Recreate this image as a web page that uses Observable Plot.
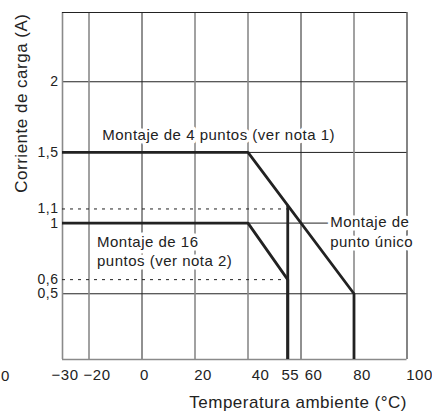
<!DOCTYPE html>
<html><head><meta charset="utf-8">
<script src="https://cdn.jsdelivr.net/npm/d3@7"></script>
<script src="https://cdn.jsdelivr.net/npm/@observablehq/plot@0.6"></script>
<style>
body{margin:0;background:#fff;}
#chart svg{display:block;}
</style></head><body><div id="chart"></div>
<script>
// Tick labels and grid
const tempTicks = [-30, -20, 0, 20, 40, 55, 60, 80, 100];
const currentTicks = [0.5, 0.6, 1, 1.1, 1.5, 2];
const gridTempGray = [-20, 20, 40, 80];
const gridTempBlack = [0, 60];
const gridCurrent = [0.5, 1, 1.5, 2];
// Reference (dotted) levels
const refCurrent = [1.1, 0.6];
const refTempEnd = 55;
// Series: Montaje de 4 puntos
const temp4 = [-30, 40, 80, 80];
const curr4 = [1.5, 1.5, 0.5, 0];
// Series: Montaje de 16 puntos
const temp16 = [-30, 40, 55, 55];
const curr16 = [1, 1, 0.6, 0];
// Series: Montaje de punto único
const tempSingle = [55, 55];
const currSingle = [1.12, 0];

const xDomain = [-30, 100];
const yDomain = [0.035, 2.49];

const toPts = (xs, ys) => xs.map((x, i) => ({x, y: ys[i]}));
const fmt = d => (d < 0 ? "\u2212" + (-d) : String(d)).replace(".", ",");
const ink = "#222";
const gray = "#8a8a8a";

const group = (vals, dx) => Plot.axisX(vals, {
  tickSize: 0, tickPadding: 10, tickFormat: fmt, fontSize: 15, dx, label: null, fill: ink
});

const chart = Plot.plot({
  width: 432, height: 412,
  marginLeft: 62, marginRight: 25.5, marginTop: 12, marginBottom: 53,
  x: {domain: xDomain},
  y: {domain: yDomain},
  style: {fontFamily: "'Liberation Sans', Arial, Helvetica, sans-serif", letterSpacing: "0.5px", background: "#fff", color: ink},
  marks: [
    Plot.ruleY(gridCurrent, {stroke: ink, strokeWidth: 1}),
    Plot.ruleX(gridTempGray, {stroke: gray, strokeWidth: 1.6}),
    Plot.ruleX(gridTempBlack, {stroke: ink, strokeWidth: 1}),
    Plot.ruleX([xDomain[0]], {stroke: gray, strokeWidth: 1.6}),
    Plot.ruleX([xDomain[1]], {stroke: "#333", strokeWidth: 1.2}),
    Plot.ruleY([yDomain[1]], {stroke: ink, strokeWidth: 1.2}),
    Plot.ruleY([yDomain[0]], {stroke: gray, strokeWidth: 1.6}),
    Plot.ruleY(refCurrent, {x1: xDomain[0], x2: refTempEnd, stroke: ink, strokeWidth: 1, strokeDasharray: "3,5"}),
    Plot.line(toPts(temp4, curr4), {x: "x", y: "y", stroke: ink, strokeWidth: 2.8, clip: true}),
    Plot.line(toPts(temp16, curr16), {x: "x", y: "y", stroke: ink, strokeWidth: 2.8, clip: true}),
    Plot.line(toPts(tempSingle, currSingle), {x: "x", y: "y", stroke: ink, strokeWidth: 2.8, clip: true}),
    Plot.axisY(currentTicks, {tickSize: 0, tickPadding: 4, tickFormat: fmt, fontSize: 14, label: null, fill: ink}),
    group([-30, 0, 55], 2.5),
    group([-20, 20, 80], 8),
    group([40, 60, 100], 12.5),
    Plot.text(["Montaje de 4 puntos (ver nota 1)"], {x: -15, y: 1.585, textAnchor: "start", lineAnchor: "bottom", fontSize: 15, fill: ink, stroke: "white", strokeWidth: 7}),
    Plot.text(["Montaje de 16\npuntos (ver nota 2)"], {x: -17, y: 0.693, textAnchor: "start", lineAnchor: "bottom", lineHeight: 1.27, fontSize: 15, fill: ink, stroke: "white", strokeWidth: 7}),
    Plot.text(["Montaje de\npunto único"], {x: 71, y: 0.831, textAnchor: "start", lineAnchor: "bottom", lineHeight: 1.3, fontSize: 15, fill: ink, stroke: "white", strokeWidth: 7}),
    Plot.text(["Corriente de carga (A)"], {frameAnchor: "top-left", dx: -35.3, dy: 1, rotate: -90, textAnchor: "end", lineAnchor: "bottom", fontSize: 17, fill: ink}),
    Plot.text(["Temperatura ambiente (\u00B0C)"], {frameAnchor: "bottom-right", dy: 48, textAnchor: "end", lineAnchor: "bottom", fontSize: 17, fill: ink}),
    Plot.text(["0"], {frameAnchor: "bottom-left", dx: -57, dy: 21, textAnchor: "middle", lineAnchor: "bottom", fontSize: 15, fill: ink})
  ]
});
document.getElementById("chart").appendChild(chart);
</script>
</body></html>
